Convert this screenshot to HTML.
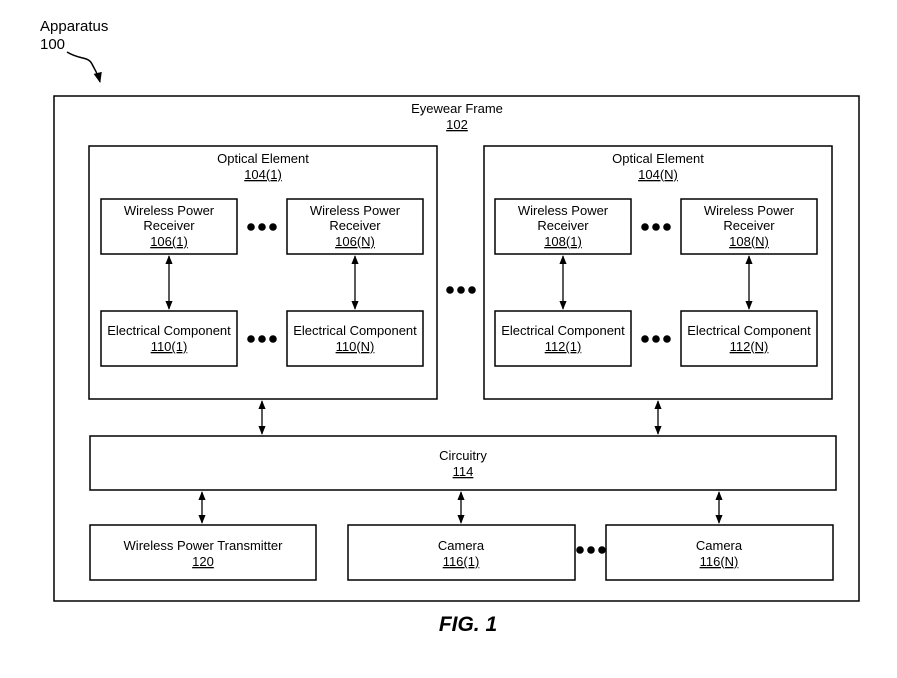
<!DOCTYPE html>
<html><head><style>body{margin:0;background:#fff}svg{display:block}text{font-family:"Liberation Sans",Arial,sans-serif;font-size:13px;fill:#000}</style></head><body>
<svg width="897" height="678" viewBox="0 0 897 678" xmlns="http://www.w3.org/2000/svg">
<defs><marker id="a" viewBox="0 0 10 10" refX="9" refY="5" markerWidth="7" markerHeight="7" orient="auto-start-reverse"><path d="M0,1 L10,5 L0,9 z" fill="#000"/></marker></defs>
<g fill="none" stroke="#000" stroke-width="1.5">
<rect x="54" y="96" width="805" height="505"/>
<rect x="89" y="146" width="348" height="253"/>
<rect x="484" y="146" width="348" height="253"/>
<rect x="101" y="199" width="136" height="55"/>
<rect x="287" y="199" width="136" height="55"/>
<rect x="101" y="311" width="136" height="55"/>
<rect x="287" y="311" width="136" height="55"/>
<rect x="495" y="199" width="136" height="55"/>
<rect x="681" y="199" width="136" height="55"/>
<rect x="495" y="311" width="136" height="55"/>
<rect x="681" y="311" width="136" height="55"/>
<rect x="90" y="436" width="746" height="54"/>
<rect x="90" y="525" width="226" height="55"/>
<rect x="348" y="525" width="227" height="55"/>
<rect x="606" y="525" width="227" height="55"/>
</g>
<g stroke="#000" stroke-width="1.3" marker-start="url(#a)" marker-end="url(#a)">
<line x1="169" y1="256" x2="169" y2="309"/>
<line x1="355" y1="256" x2="355" y2="309"/>
<line x1="563" y1="256" x2="563" y2="309"/>
<line x1="749" y1="256" x2="749" y2="309"/>
<line x1="262" y1="401" x2="262" y2="434"/>
<line x1="658" y1="401" x2="658" y2="434"/>
<line x1="202" y1="492" x2="202" y2="523"/>
<line x1="461" y1="492" x2="461" y2="523"/>
<line x1="719" y1="492" x2="719" y2="523"/>
</g>
<path d="M67,52 C80,60 88,56 92,64 C96,72 98,74 100,82" fill="none" stroke="#000" stroke-width="1.5" marker-end="url(#a)"/>
<g fill="#000">
<circle cx="251" cy="227" r="3.8"/><circle cx="262" cy="227" r="3.8"/><circle cx="273" cy="227" r="3.8"/>
<circle cx="251" cy="339" r="3.8"/><circle cx="262" cy="339" r="3.8"/><circle cx="273" cy="339" r="3.8"/>
<circle cx="645" cy="227" r="3.8"/><circle cx="656" cy="227" r="3.8"/><circle cx="667" cy="227" r="3.8"/>
<circle cx="645" cy="339" r="3.8"/><circle cx="656" cy="339" r="3.8"/><circle cx="667" cy="339" r="3.8"/>
<circle cx="450" cy="290" r="3.8"/><circle cx="461" cy="290" r="3.8"/><circle cx="472" cy="290" r="3.8"/>
<circle cx="580" cy="550" r="3.8"/><circle cx="591" cy="550" r="3.8"/><circle cx="602" cy="550" r="3.8"/>
</g>
<text x="40" y="31" style="font-size:15px">Apparatus</text>
<text x="40" y="49" style="font-size:15px">100</text>
<g text-anchor="middle">
<text x="457" y="113">Eyewear Frame</text><text x="457" y="129" text-decoration="underline">102</text>
<text x="263" y="163">Optical Element</text><text x="263" y="179" text-decoration="underline">104(1)</text>
<text x="658" y="163">Optical Element</text><text x="658" y="179" text-decoration="underline">104(N)</text>
<text x="169" y="215">Wireless Power</text><text x="169" y="230">Receiver</text><text x="169" y="246" text-decoration="underline">106(1)</text>
<text x="355" y="215">Wireless Power</text><text x="355" y="230">Receiver</text><text x="355" y="246" text-decoration="underline">106(N)</text>
<text x="563" y="215">Wireless Power</text><text x="563" y="230">Receiver</text><text x="563" y="246" text-decoration="underline">108(1)</text>
<text x="749" y="215">Wireless Power</text><text x="749" y="230">Receiver</text><text x="749" y="246" text-decoration="underline">108(N)</text>
<text x="169" y="335">Electrical Component</text><text x="169" y="351" text-decoration="underline">110(1)</text>
<text x="355" y="335">Electrical Component</text><text x="355" y="351" text-decoration="underline">110(N)</text>
<text x="563" y="335">Electrical Component</text><text x="563" y="351" text-decoration="underline">112(1)</text>
<text x="749" y="335">Electrical Component</text><text x="749" y="351" text-decoration="underline">112(N)</text>
<text x="463" y="460">Circuitry</text><text x="463" y="476" text-decoration="underline">114</text>
<text x="203" y="550">Wireless Power Transmitter</text><text x="203" y="566" text-decoration="underline">120</text>
<text x="461" y="550">Camera</text><text x="461" y="566" text-decoration="underline">116(1)</text>
<text x="719" y="550">Camera</text><text x="719" y="566" text-decoration="underline">116(N)</text>
<text x="468" y="631" style="font-size:21px;font-weight:bold;font-style:italic">FIG. 1</text>
</g>
</svg>
</body></html>
